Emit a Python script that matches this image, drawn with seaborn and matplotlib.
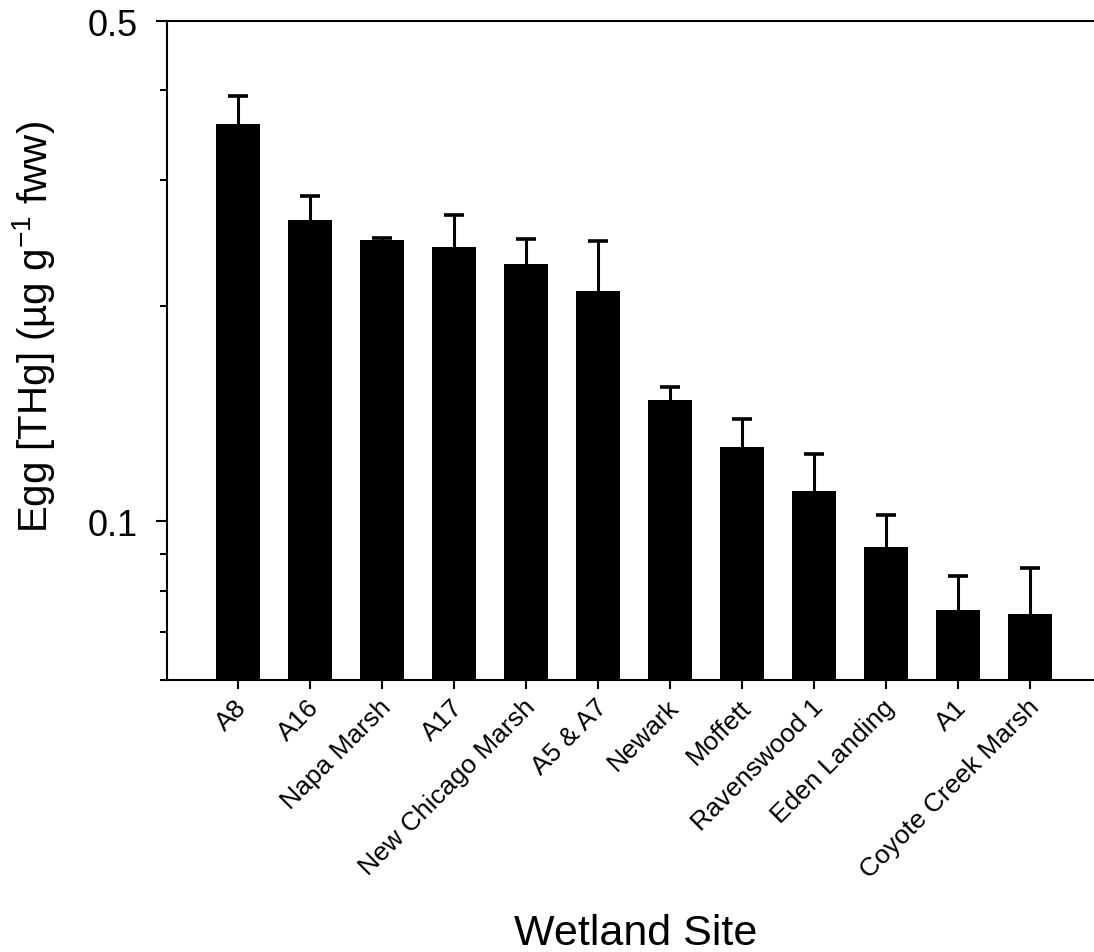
import matplotlib
matplotlib.use("Agg")
import matplotlib.pyplot as plt
import matplotlib.transforms as mtransforms
import seaborn as sns
import numpy as np
import pandas as pd
from matplotlib.ticker import FixedLocator, NullFormatter

# Mean egg total mercury by wetland site, with upper error bar ends
sites = ["A8", "A16", "Napa Marsh", "A17", "New Chicago Marsh", "A5 & A7",
         "Newark", "Moffett", "Ravenswood 1", "Eden Landing", "A1",
         "Coyote Creek Marsh"]
mean_thg = [0.359, 0.264, 0.247, 0.2415, 0.229, 0.2096,
            0.1476, 0.1269, 0.1101, 0.0919, 0.0751, 0.0741]
upper_thg = [0.393, 0.2846, 0.249, 0.2678, 0.2479, 0.2463,
             0.1539, 0.1388, 0.124, 0.1019, 0.0838, 0.086]

sns.set_theme(style="white")
plt.rcParams["font.family"] = ["Liberation Sans", "DejaVu Sans"]
plt.rcParams["mathtext.fontset"] = "custom"
plt.rcParams["mathtext.rm"] = "Liberation Sans"
plt.rcParams["mathtext.it"] = "Liberation Sans:italic"
for key in ["text.color", "axes.labelcolor", "xtick.color", "ytick.color"]:
    plt.rcParams[key] = "black"

df = pd.DataFrame({"site": sites, "thg": mean_thg, "upper": upper_thg})

fig = plt.figure(figsize=(10.94, 9.53), dpi=100)
ax = fig.add_axes([0.1527, 0.2854, 0.8463, 0.6915])

sns.barplot(data=df, x="site", y="thg", color="black", saturation=1,
            width=0.61, ax=ax, errorbar=None)
for p in ax.patches:
    p.set_linewidth(0)

xpos = np.arange(len(sites))
upper_err = np.array(upper_thg) - np.array(mean_thg)
eb = ax.errorbar(xpos, mean_thg, yerr=[np.zeros(len(sites)), upper_err],
                 fmt="none", ecolor="black", elinewidth=2.2, capsize=7,
                 capthick=2.6, zorder=3)
# only the upper caps are shown
eb[1][0].set_visible(False)

ax.set_yscale("log")
ax.set_ylim(0.06, 0.5)
ax.set_xlim(-0.985, 11.87)

ax.yaxis.set_major_locator(FixedLocator([0.1, 0.5]))
ax.set_yticklabels(["0.1", "0.5"])
ax.yaxis.set_minor_locator(FixedLocator([0.06, 0.07, 0.08, 0.09, 0.2, 0.3, 0.4]))
ax.yaxis.set_minor_formatter(NullFormatter())

for side in ["left", "bottom", "top"]:
    ax.spines[side].set_visible(True)
    ax.spines[side].set_color("black")
    ax.spines[side].set_linewidth(1.5)
ax.spines["right"].set_visible(False)

ax.tick_params(axis="y", which="major", direction="out", length=8, width=1.5,
               color="black", labelcolor="black", labelsize=26, pad=13, left=True)
ax.tick_params(axis="y", which="minor", direction="out", length=5, width=1.5,
               color="black", left=True)
ax.tick_params(axis="x", which="major", direction="out", length=6.5, width=1.5,
               color="black", labelcolor="black", labelsize=19, pad=10, bottom=True)
ax.tick_params(axis="x", which="minor", bottom=False)

shift = mtransforms.ScaledTranslation(0.05, 0, fig.dpi_scale_trans)
for lbl in ax.get_xticklabels():
    lbl.set_rotation(45)
    lbl.set_ha("right")
    lbl.set_va("center")
    lbl.set_rotation_mode("anchor")
    lbl.set_transform(lbl.get_transform() + shift)

ax.set_xlabel("Wetland Site", fontsize=31, color="black")
ax.xaxis.set_label_coords(0.506, (8 - 272) / 659)
ax.xaxis.label.set_va("baseline")

ax.set_ylabel("Egg [THg] (µg g$^{-1}$ fww)", fontsize=29, color="black")
ax.yaxis.set_label_coords(-0.1295, 0.537)
ax.yaxis.label.set_va("baseline")
ax.yaxis.label.set_rotation_mode("anchor")

fig.savefig("out.png", dpi=100, facecolor="white")
